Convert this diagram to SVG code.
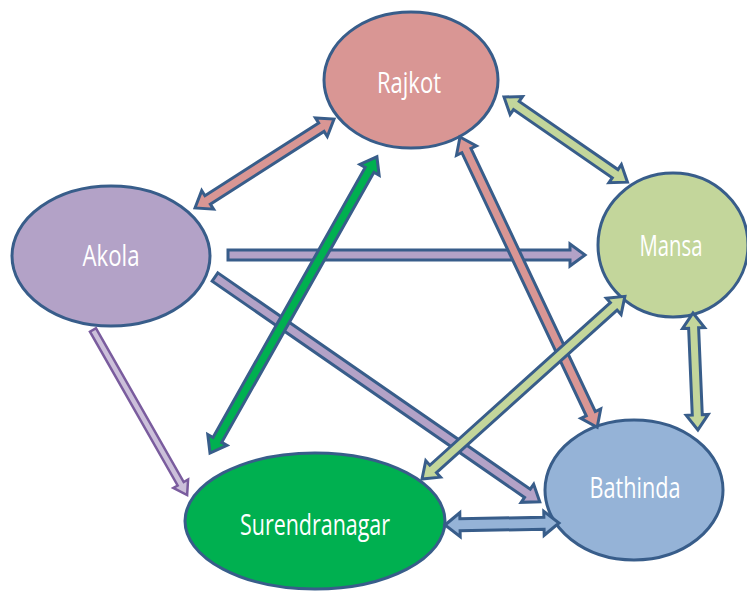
<svg xmlns="http://www.w3.org/2000/svg" width="747" height="591" viewBox="0 0 747 591">
<style>
.node{stroke:#385D8A;stroke-width:3}
.lbl{font-family:"Open Sans","Noto Sans","Liberation Sans",sans-serif;font-size:30px;fill:#ffffff;text-anchor:middle}
.arr{stroke:#385D8A;stroke-width:3;stroke-linejoin:miter}
.rj{fill:#D99694}.ak{fill:#B3A2C7}.ms{fill:#C3D69B}.bt{fill:#95B3D7}.sr{fill:#00B050}
</style>
<rect width="747" height="591" fill="#ffffff"/>
<g id="nodes">
<g id="rajkot"><ellipse class="node rj" cx="411" cy="80" rx="87" ry="68"/><text class="lbl" x="409" y="93" textLength="64" lengthAdjust="spacingAndGlyphs">Rajkot</text></g>
<g id="akola"><ellipse class="node ak" cx="111" cy="256" rx="99" ry="70"/><text class="lbl" x="111" y="266" textLength="57" lengthAdjust="spacingAndGlyphs">Akola</text></g>
<g id="mansa"><ellipse class="node ms" cx="673" cy="245" rx="75" ry="72"/><text class="lbl" x="671" y="256" textLength="63" lengthAdjust="spacingAndGlyphs">Mansa</text></g>
<g id="bathinda"><ellipse class="node bt" cx="634" cy="490" rx="89" ry="70"/><text class="lbl" x="635" y="498" textLength="91" lengthAdjust="spacingAndGlyphs">Bathinda</text></g>
<g id="surendranagar"><ellipse class="node sr" cx="315" cy="521" rx="130" ry="68"/><text class="lbl" x="315" y="535" textLength="150" lengthAdjust="spacingAndGlyphs">Surendranagar</text></g>
</g>
<g id="connectors">
<path class="arr ak" transform="translate(228,255)" d="M0,-5 L342,-5 L342,-11 L357,0 L342,11 L342,5 L0,5Z"/>
<path class="arr ak" transform="translate(215,277) rotate(34.7)" d="M0,-5 L380,-5 L380,-11 L395,0 L380,11 L380,5 L0,5Z"/>
<path class="arr" style="fill:#CCC0DA;stroke:#7A5C9E;stroke-width:2.5" transform="translate(93,330) rotate(60.3)" d="M0,-3.5 L177,-3.5 L177,-8.5 L190,0 L177,8.5 L177,3.5 L0,3.5Z"/>
<path class="arr rj" transform="translate(195,208) rotate(-32.6)" d="M0,0 L15,-11 L15,-5 L150,-5 L150,-11 L165,0 L150,11 L150,5 L15,5 L15,11Z"/>
<path class="arr rj" transform="translate(460,137) rotate(64.7)" d="M0,0 L15,-11 L15,-5 L306,-5 L306,-11 L321,0 L306,11 L306,5 L15,5 L15,11Z"/>
<path class="arr sr" transform="translate(210,453) rotate(-60.6)" d="M0,0 L15,-11 L15,-5 L325,-5 L325,-11 L340,0 L325,11 L325,5 L15,5 L15,11Z"/>
<path class="arr ms" transform="translate(504,97) rotate(34.6)" d="M0,0 L15,-11 L15,-5 L135,-5 L135,-11 L150,0 L135,11 L135,5 L15,5 L15,11Z"/>
<path class="arr ms" transform="translate(422,479) rotate(-42)" d="M0,0 L15,-11 L15,-5 L258,-5 L258,-11 L273,0 L258,11 L258,5 L15,5 L15,11Z"/>
<path class="arr ms" transform="translate(693,313) rotate(87.6)" d="M0,0 L15,-11 L15,-5 L102,-5 L102,-11 L117,0 L102,11 L102,5 L15,5 L15,11Z"/>
<path class="arr bt" transform="translate(445,525) rotate(-1)" d="M0,0 L15,-12 L15,-6 L99,-6 L99,-12 L114,0 L99,12 L99,6 L15,6 L15,12Z"/>
</g>
</svg>
